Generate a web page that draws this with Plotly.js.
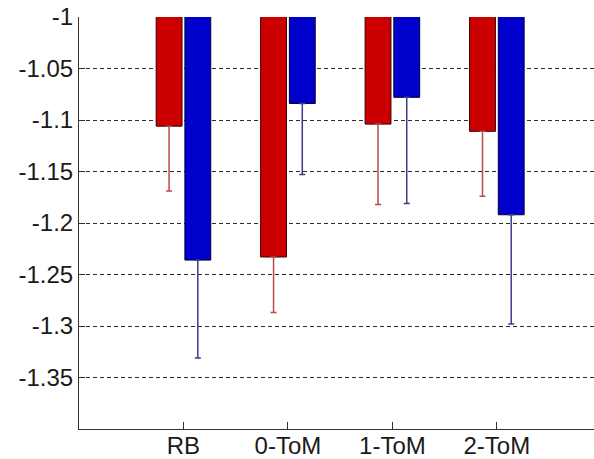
<!DOCTYPE html>
<html>
<head>
<meta charset="utf-8">
<script src="https://cdn.plot.ly/plotly-3.0.1.min.js"></script>
<style>
  html, body { margin: 0; padding: 0; background: #ffffff; }
  #chart { width: 594px; height: 459px; }
</style>
</head>
<body>
<div id="chart"></div>
<script>
// Model categories along the x axis
const categories = ['RB', '0-ToM', '1-ToM', '2-ToM'];
const categoryPositions = [1, 2, 3, 4];

// Mean scores (red and blue series) and their downward error lengths
const redValues = [-1.106, -1.233, -1.104, -1.111];
const redErrors = [0.063, 0.054, 0.078, 0.063];
const blueValues = [-1.236, -1.084, -1.078, -1.192];
const blueErrors = [0.095, 0.069, 0.103, 0.106];

// Y axis ticks
const yTickValues = [-1, -1.05, -1.1, -1.15, -1.2, -1.25, -1.3, -1.35];
const yTickLabels = ['-1', '-1.05', '-1.1', '-1.15', '-1.2', '-1.25', '-1.3', '-1.35'];

const zeros = categoryPositions.map(() => 0);

const redTrace = {
  type: 'bar',
  x: categoryPositions,
  y: redValues,
  marker: { color: '#cc0000', line: { color: '#3a0000', width: 1 } },
  error_y: {
    type: 'data', symmetric: false,
    array: zeros, arrayminus: redErrors,
    color: '#b84a4a', thickness: 1.5, width: 3
  },
  hoverinfo: 'skip'
};

const blueTrace = {
  type: 'bar',
  x: categoryPositions,
  y: blueValues,
  marker: { color: '#0000cc', line: { color: '#00003a', width: 1 } },
  error_y: {
    type: 'data', symmetric: false,
    array: zeros, arrayminus: blueErrors,
    color: '#3c3c8c', thickness: 1.5, width: 3
  },
  hoverinfo: 'skip'
};

const axisFont = { family: '"Liberation Sans", Arial, sans-serif', size: 24, color: '#1a1a1a' };

const layout = {
  width: 594,
  height: 459,
  margin: { l: 79, r: 0, t: 17, b: 30, pad: 0 },
  paper_bgcolor: '#ffffff',
  plot_bgcolor: '#ffffff',
  showlegend: false,
  barmode: 'group',
  bargap: 0.45,
  bargroupgap: 0.1,
  font: axisFont,
  xaxis: {
    range: [0, 4.93],
    tickmode: 'array',
    tickvals: categoryPositions,
    ticktext: categories,
    ticks: 'inside',
    ticklen: 7,
    tickcolor: '#333333',
    ticklabelstandoff: -5,
    showgrid: false,
    zeroline: false,
    showline: true,
    linecolor: '#333333',
    linewidth: 1,
    tickfont: axisFont
  },
  yaxis: {
    range: [-1.4, -1],
    tickmode: 'array',
    tickvals: yTickValues,
    ticktext: yTickLabels,
    ticks: 'inside',
    ticklen: 6,
    tickcolor: '#333333',
    showgrid: true,
    gridcolor: '#2a2a2a',
    gridwidth: 1,
    griddash: '4px,3px',
    zeroline: false,
    showline: true,
    linecolor: '#333333',
    linewidth: 1,
    tickfont: axisFont
  }
};

Plotly.newPlot('chart', [redTrace, blueTrace], layout, { staticPlot: true, displayModeBar: false });
</script>
</body>
</html>
